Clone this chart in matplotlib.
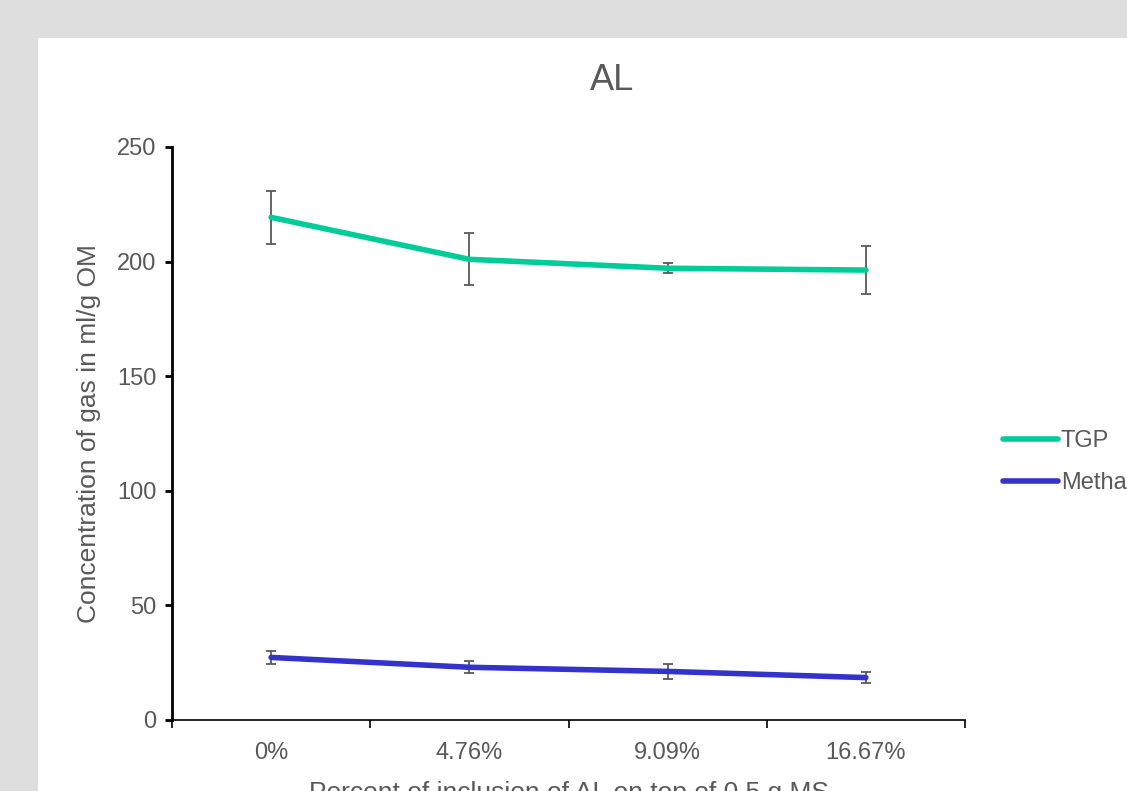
import matplotlib
matplotlib.use('Agg')
import matplotlib.pyplot as plt
from matplotlib.patches import Rectangle

plt.rcParams['font.family'] = ['Liberation Sans', 'DejaVu Sans']

categories = ['0%', '4.76%', '9.09%', '16.67%']
tgp = [219.3, 201.0, 197.1, 196.3]
tgp_err = [11.7, 11.4, 2.2, 10.5]
methane = [27.3, 23.0, 21.2, 18.5]
methane_err = [2.7, 2.6, 3.1, 2.5]
y_ticks = [0, 50, 100, 150, 200, 250]

grey_text = '#595959'

fig = plt.figure(figsize=(11.27, 7.91), dpi=100)
fig.patch.set_facecolor('#dedede')
panel = Rectangle((38 / 1127, 0), 1, 1 - 38 / 791, transform=fig.transFigure,
                  facecolor='white', edgecolor='none', zorder=-10)
fig.add_artist(panel)

ax = fig.add_axes([172 / 1127, 1 - 720 / 791, (965 - 172) / 1127, (720 - 147) / 791])
ax.set_facecolor('none')

x = list(range(len(categories)))
ax.errorbar(x, tgp, yerr=tgp_err, fmt='none', ecolor=grey_text, elinewidth=1.3,
            capsize=3.5, capthick=1.3, zorder=2)
ax.errorbar(x, methane, yerr=methane_err, fmt='none', ecolor=grey_text, elinewidth=1.3,
            capsize=3.5, capthick=1.3, zorder=2)
ax.plot(x, tgp, color='#00cc99', lw=4, solid_capstyle='round', label='TGP', zorder=3)
ax.plot(x, methane, color='#3333cc', lw=4, solid_capstyle='round', label='Methane', zorder=3)

ax.set_xlim(-0.5, len(categories) - 0.5)
ax.set_ylim(0, 250)
ax.set_yticks(y_ticks)
ax.set_xticks(x)
ax.set_xticklabels(categories)
ax.set_xticks([i - 0.5 for i in range(len(categories) + 1)], minor=True)
ax.tick_params(axis='x', which='major', length=0, pad=16, labelsize=17, labelcolor=grey_text)
ax.tick_params(axis='x', which='minor', length=6, width=1.2, direction='out', color='black')
ax.tick_params(axis='y', length=5, width=2, direction='out', color='black',
               labelsize=17, labelcolor=grey_text, pad=6)

for side in ['top', 'right']:
    ax.spines[side].set_visible(False)
ax.spines['left'].set_linewidth(2)
ax.spines['bottom'].set_linewidth(1.2)

ax.set_ylabel('Concentration of gas in ml/g OM', fontsize=19, color=grey_text, labelpad=12)
ax.set_xlabel('Percent of inclusion of AL on top of 0.5 g MS', fontsize=19,
              color=grey_text, labelpad=12)
fig.text(612 / 1127, 1 - 80 / 791, 'AL', fontsize=26, color=grey_text,
         ha='center', va='center')

fig.legend(loc='center left', bbox_to_anchor=(994 / 1127, 1 - 462 / 791),
           frameon=False, fontsize=17, borderaxespad=0,
           handlelength=2.3, handletextpad=0.13, labelspacing=0.85,
           labelcolor=grey_text)

fig.savefig('out.png', dpi=100, facecolor=fig.get_facecolor())
